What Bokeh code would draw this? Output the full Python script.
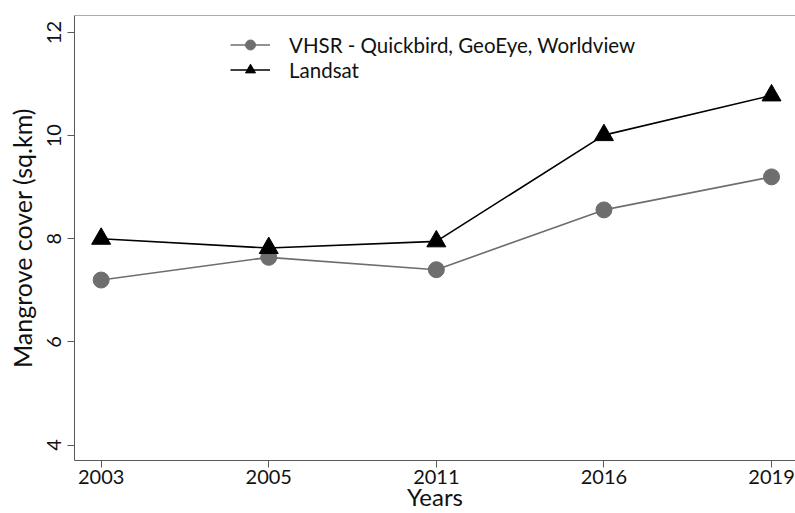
from bokeh.plotting import figure
from bokeh.models import (ColumnDataSource, FixedTicker, Range1d, Legend, LegendItem, Span)
from bokeh.embed import file_html
from bokeh.resources import INLINE

# ---- data ----
years = ["2003", "2005", "2011", "2016", "2019"]
vhsr = [7.2, 7.64, 7.4, 8.56, 9.2]
landsat = [8.0, 7.82, 7.95, 10.01, 10.78]
y_ticks = [4, 6, 8, 10, 12]
vhsr_label = "VHSR - Quickbird, GeoEye, Worldview"
landsat_label = "Landsat"

FONT = "Lato"
idx = list(range(len(years)))
src = ColumnDataSource(dict(x=idx, vhsr=vhsr, landsat=landsat))

p = figure(width=795, height=513, output_backend="svg", toolbar_location=None,
           x_range=Range1d(-0.159, 4.143), y_range=Range1d(3.70, 12.33),
           min_border_left=74, min_border_top=15, min_border_bottom=51, min_border_right=0)
p.outline_line_color = None
p.xgrid.visible = False
p.ygrid.visible = False
p.background_fill_color = "white"
p.border_fill_color = "white"

xa = p.below[0]
ya = p.left[0]

# top border line of the frame
p.add_layout(Span(location=p.y_range.end, dimension="width",
                  line_color="#595959", line_width=1))

# axes
xa.ticker = FixedTicker(ticks=idx)
xa.major_label_overrides = {i: y for i, y in zip(idx, years)}
xa.axis_label = "Years"
ya.ticker = FixedTicker(ticks=y_ticks)
ya.axis_label = "Mangrove cover (sq.km)"
ya.major_label_orientation = "vertical"
for ax in (xa, ya):
    ax.axis_line_color = "#595959"
    ax.major_tick_line_color = "#595959"
    ax.minor_tick_line_color = None
    ax.major_tick_in = 0
    ax.major_tick_out = 7
    ax.major_label_text_font = FONT
    ax.major_label_text_font_size = "20px"
    ax.major_label_text_color = "#111111"
    ax.axis_label_text_font = FONT
    ax.axis_label_text_font_size = "25px"
    ax.axis_label_text_font_style = "normal"
    ax.axis_label_text_color = "#111111"
xa.axis_label_text_font_size = "24px"
xa.major_label_standoff = 2
xa.axis_label_standoff = -5
ya.major_label_standoff = 6
ya.axis_label_standoff = 8

gray = "#6e6e6e"
l1 = p.line("x", "vhsr", source=src, line_color=gray, line_width=1.6)
s1 = p.scatter("x", "vhsr", source=src, marker="circle", size=16,
               fill_color=gray, line_color=gray)
l2 = p.line("x", "landsat", source=src, line_color="black", line_width=1.6)
s2 = p.scatter("x", "landsat", source=src, marker="triangle", size=19,
               fill_color="black", line_color="black")

legend = Legend(items=[LegendItem(label=vhsr_label, renderers=[l1, s1]),
                       LegendItem(label=landsat_label, renderers=[l2, s2])],
                location=(156, 378), orientation="vertical",
                border_line_color=None, background_fill_alpha=0,
                padding=0, margin=0, spacing=0,
                glyph_width=40, glyph_height=25, label_height=25,
                label_standoff=19, label_text_font=FONT,
                label_text_font_size="20.5px", label_text_color="#111111")
p.add_layout(legend)

open("out.html", "w").write(file_html(p, INLINE))
